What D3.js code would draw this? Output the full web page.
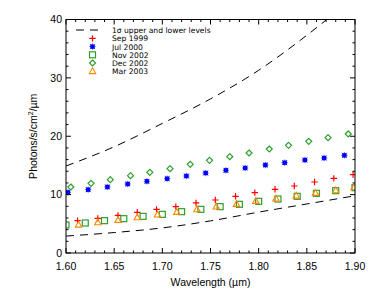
<!DOCTYPE html>
<html><head><meta charset="utf-8">
<script src="https://cdn.jsdelivr.net/npm/d3@7"></script>
<style>body{margin:0;background:#fff;} svg{display:block;} text{font-family:"Liberation Sans",Arial,sans-serif;}</style>
</head><body><svg id="c" width="374" height="295"></svg>
<script>
// ---- data ----
const xTicks = [1.60, 1.65, 1.70, 1.75, 1.80, 1.85, 1.90];
const yTicks = [0, 10, 20, 30, 40];
const sigmaX = [1.60, 1.65, 1.70, 1.75, 1.80, 1.85, 1.90];
const sigmaUpper = [14.9, 18.2, 22.2, 26.4, 31.3, 37.3, 44.0];
const sigmaLower = [2.9, 3.5, 4.3, 5.5, 7.0, 8.4, 9.8];

const sep1999X = [1.612, 1.633, 1.654, 1.674, 1.694, 1.714, 1.735, 1.755, 1.776, 1.796, 1.817, 1.837, 1.858, 1.878, 1.898];
const sep1999Y = [5.54, 5.94, 6.45, 6.97, 7.48, 7.94, 8.57, 9.08, 9.71, 10.34, 10.91, 11.48, 12.16, 12.79, 13.42];
const jul2000X = [1.602, 1.623, 1.643, 1.664, 1.684, 1.705, 1.725, 1.745, 1.766, 1.786, 1.807, 1.827, 1.848, 1.868, 1.889];
const jul2000Y = [10.39, 10.85, 11.31, 11.82, 12.28, 12.73, 13.19, 13.70, 14.16, 14.56, 15.07, 15.47, 15.93, 16.27, 16.73];
const nov2002X = [1.60, 1.62, 1.64, 1.66, 1.68, 1.70, 1.72, 1.74, 1.76, 1.78, 1.80, 1.82, 1.84, 1.86, 1.88, 1.90];
const nov2002Y = [4.80, 5.14, 5.54, 5.88, 6.28, 6.62, 7.08, 7.48, 7.94, 8.34, 8.85, 9.25, 9.71, 10.22, 10.68, 11.19];
const dec2002X = [1.605, 1.626, 1.646, 1.667, 1.687, 1.708, 1.729, 1.749, 1.770, 1.790, 1.811, 1.831, 1.852, 1.872, 1.893];
const dec2002Y = [11.31, 11.94, 12.56, 13.25, 13.82, 14.45, 15.19, 15.88, 16.50, 17.13, 17.82, 18.44, 19.13, 19.76, 20.39];
const mar2003X = [1.613, 1.633, 1.654, 1.674, 1.695, 1.715, 1.736, 1.756, 1.777, 1.797, 1.818, 1.839, 1.859, 1.880, 1.899];
const mar2003Y = [4.85, 5.25, 5.65, 6.11, 6.57, 7.02, 7.48, 7.94, 8.39, 8.91, 9.31, 9.82, 10.28, 10.74, 11.25];

const seriesNames = ["Sep 1999", "Jul 2000", "Nov 2002", "Dec 2002", "Mar 2003"];
const seriesColors = ["#ff0000", "#0000ff", "#2e9e2e", "#2e9e2e", "#ff8800"];
const seriesShapes = ["plus", "asterisk", "square", "diamond", "triangle"];
const seriesXs = [sep1999X, jul2000X, nov2002X, dec2002X, mar2003X];
const seriesYs = [sep1999Y, jul2000Y, nov2002Y, dec2002Y, mar2003Y];

// ---- layout ----
const L = 66, R = 355, T = 19.5, B = 253;
const svg = d3.select("#c");
const x = d3.scaleLinear().domain([1.60, 1.90]).range([L, R]);
const y = d3.scaleLinear().domain([0, 40]).range([B, T]);

svg.append("defs").append("clipPath").attr("id", "clip")
  .append("rect").attr("x", L).attr("y", T).attr("width", R - L).attr("height", B - T);

function drawSym(g, shape, cx, cy, color) {
  const s = 3.2;
  if (shape === "plus") {
    g.append("path").attr("d", `M${cx - s},${cy}H${cx + s}M${cx},${cy - s}V${cy + s}`)
      .attr("stroke", color).attr("stroke-width", 1.2).attr("fill", "none");
  } else if (shape === "asterisk") {
    const d = s * 0.8;
    g.append("rect").attr("x", cx - 2.2).attr("y", cy - 2.2).attr("width", 4.4).attr("height", 4.4).attr("fill", color);
    g.append("path").attr("d", `M${cx - s},${cy}H${cx + s}M${cx},${cy - s}V${cy + s}M${cx - d},${cy - d}L${cx + d},${cy + d}M${cx - d},${cy + d}L${cx + d},${cy - d}`)
      .attr("stroke", color).attr("stroke-width", 1).attr("fill", "none").attr("opacity", 0.6);
  } else if (shape === "square") {
    g.append("rect").attr("x", cx - 3).attr("y", cy - 3).attr("width", 6).attr("height", 6)
      .attr("stroke", color).attr("stroke-width", 1.2).attr("fill", "none");
  } else if (shape === "diamond") {
    g.append("path").attr("d", `M${cx},${cy - 3}L${cx + 3},${cy}L${cx},${cy + 3}L${cx - 3},${cy}Z`)
      .attr("stroke", color).attr("stroke-width", 1.2).attr("fill", "none");
  } else if (shape === "triangle") {
    g.append("path").attr("d", `M${cx},${cy - 3.4}L${cx + 3.2},${cy + 2.4}L${cx - 3.2},${cy + 2.4}Z`)
      .attr("stroke", color).attr("stroke-width", 1.1).attr("fill", "none");
  }
}

const plot = svg.append("g").attr("clip-path", "url(#clip)");

const line = d3.line().x(d => x(d[0])).y(d => y(d[1])).curve(d3.curveMonotoneX);
[sigmaUpper, sigmaLower].forEach(vals => {
  plot.append("path").datum(sigmaX.map((v, i) => [v, vals[i]]))
    .attr("d", line).attr("fill", "none").attr("stroke", "#000")
    .attr("stroke-width", 1).attr("stroke-dasharray", "8,6");
});

[0, 1, 2, 3, 4].forEach(k => {
  const g = plot.append("g");
  seriesXs[k].forEach((xv, i) => drawSym(g, seriesShapes[k], x(xv), y(seriesYs[k][i]), seriesColors[k]));
});

svg.append("rect").attr("x", L).attr("y", T).attr("width", R - L).attr("height", B - T)
  .attr("fill", "none").attr("stroke", "#000").attr("stroke-width", 1);

const axG = svg.append("g").attr("stroke", "#000").attr("stroke-width", 1);
const xMinor = d3.range(0, 31).map(i => 1.60 + i * 0.01);
xMinor.forEach((v, i) => {
  const len = (i % 5 === 0) ? 5 : 2.5;
  axG.append("line").attr("x1", x(v)).attr("x2", x(v)).attr("y1", B).attr("y2", B - len);
  axG.append("line").attr("x1", x(v)).attr("x2", x(v)).attr("y1", T).attr("y2", T + len);
});
const yMinor = d3.range(0, 21).map(i => i * 2);
yMinor.forEach((v, i) => {
  const len = (i % 5 === 0) ? 5 : 2.5;
  axG.append("line").attr("y1", y(v)).attr("y2", y(v)).attr("x1", L).attr("x2", L + len);
  axG.append("line").attr("y1", y(v)).attr("y2", y(v)).attr("x1", R).attr("x2", R - len);
});

svg.append("g").selectAll("text").data(xTicks).join("text")
  .attr("x", d => x(d)).attr("y", 270).attr("text-anchor", "middle")
  .attr("font-size", 10.5).attr("fill", "#000").text(d => d.toFixed(2));
svg.append("g").selectAll("text").data(yTicks).join("text")
  .attr("x", L - 4).attr("y", d => y(d) + 3.8).attr("text-anchor", "end")
  .attr("font-size", 10.5).attr("fill", "#000").text(d => d);

svg.append("text").attr("x", (L + R) / 2).attr("y", 286).attr("text-anchor", "middle")
  .attr("font-size", 10.5).attr("fill", "#000").text("Wavelength (\u00b5m)");
const yl = svg.append("text").attr("transform", `translate(37,${(T + B) / 2}) rotate(-90)`)
  .attr("text-anchor", "middle").attr("font-size", 10.5).attr("fill", "#000");
yl.append("tspan").text("Photons/s/cm");
yl.append("tspan").attr("font-size", 7).attr("dy", -4).text("2");
yl.append("tspan").attr("dy", 4).text("/\u00b5m");

// legend
const lg = svg.append("g");
const lgFont = "'DejaVu Sans', sans-serif";
lg.append("line").attr("x1", 76).attr("x2", 101).attr("y1", 30).attr("y2", 30)
  .attr("stroke", "#000").attr("stroke-width", 1).attr("stroke-dasharray", "8,6");
lg.append("text").attr("x", 112).attr("y", 33).attr("font-size", 7.6)
  .style("font-family", lgFont).attr("fill", "#000")
  .text("1\u03c3 upper and lower levels");
seriesNames.forEach((nm, k) => {
  const yy = 38.4 + k * 8.2;
  drawSym(lg, seriesShapes[k], 92.5, yy, seriesColors[k]);
  lg.append("text").attr("x", 112).attr("y", yy + 2.9).attr("font-size", 7.6)
    .style("font-family", lgFont).attr("fill", "#000").text(nm);
});
</script></body></html>
